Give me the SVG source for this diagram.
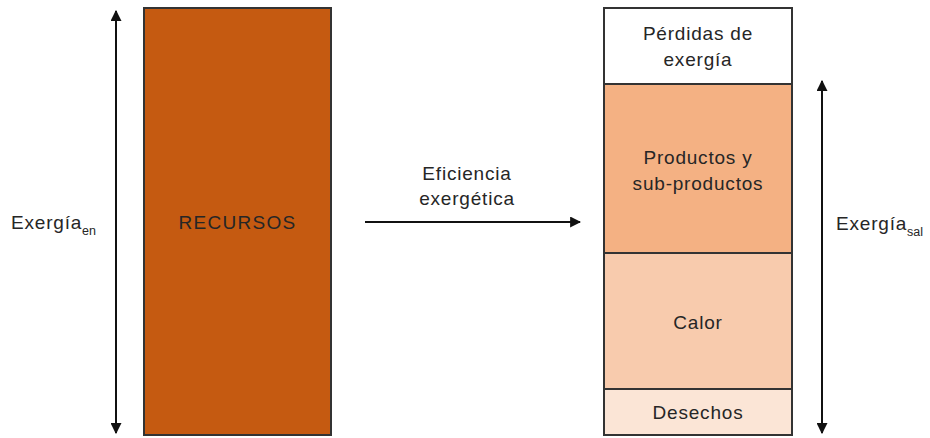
<svg xmlns="http://www.w3.org/2000/svg" width="930" height="438" viewBox="0 0 930 438">
<style>
  text { font-family: "Liberation Sans", Arial, sans-serif; font-size: 19px; fill: #262626; letter-spacing: 0.8px; }
  .c { text-anchor: middle; }
  .sub { font-size: 12.5px; letter-spacing: 0; fill: #262626; }
  .wide { letter-spacing: 1.3px; }
  .box { stroke: #333; stroke-width: 2; }
  .conn { stroke: #111; stroke-width: 2; fill: none; }
</style>
<defs>
  <marker id="ah" viewBox="0 0 10 10" refX="9" refY="5" markerWidth="5.5" markerHeight="5.5" orient="auto-start-reverse" markerUnits="strokeWidth">
    <path d="M0,0 L10,5 L0,10 Z" fill="#111"/>
  </marker>
</defs>
<rect width="930" height="438" fill="#fff"/>
<g id="recursos">
  <rect class="box" x="144" y="8" width="187" height="427" fill="#C55A11"/>
  <text class="c wide" x="237.5" y="229">RECURSOS</text>
</g>
<g id="perdidas">
  <rect class="box" x="604" y="8" width="188" height="76" fill="#fff"/>
  <text class="c" x="698" y="40">Pérdidas de</text>
  <text class="c" x="698" y="66">exergía</text>
</g>
<g id="productos">
  <rect class="box" x="604" y="84" width="188" height="169" fill="#F4B183"/>
  <text class="c" x="698" y="164">Productos y</text>
  <text class="c" x="698" y="190">sub-productos</text>
</g>
<g id="calor">
  <rect class="box" x="604" y="253" width="188" height="136" fill="#F8CBAD"/>
  <text class="c" x="698" y="329">Calor</text>
</g>
<g id="desechos">
  <rect class="box" x="604" y="389" width="188" height="46" fill="#FBE5D6"/>
  <text class="c" x="698" y="419">Desechos</text>
</g>
<g id="labels">
  <text x="11" y="229">Exergía<tspan class="sub" dy="6">en</tspan></text>
  <text x="836" y="230">Exergía<tspan class="sub" dy="6">sal</tspan></text>
  <text class="c" x="467" y="180">Eficiencia</text>
  <text class="c" x="467" y="205">exergética</text>
</g>
<g id="connectors">
  <line class="conn" x1="116" y1="11" x2="116" y2="433" marker-start="url(#ah)" marker-end="url(#ah)"/>
  <line class="conn" x1="822" y1="81" x2="822" y2="433" marker-start="url(#ah)" marker-end="url(#ah)"/>
  <line class="conn" x1="365" y1="222" x2="580" y2="222" marker-end="url(#ah)"/>
</g>
</svg>
